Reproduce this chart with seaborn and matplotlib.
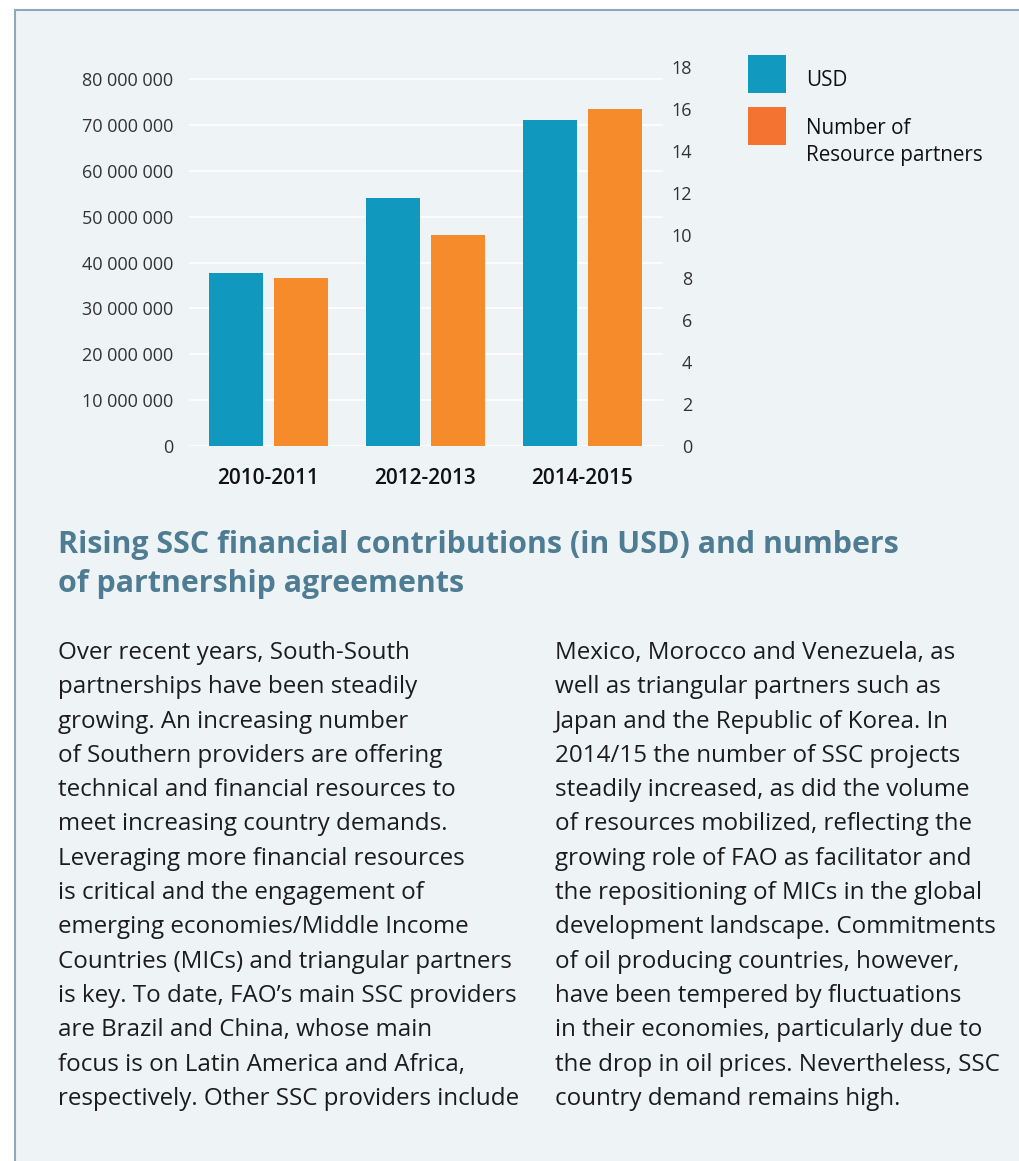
import matplotlib
matplotlib.use("Agg")
import matplotlib.pyplot as plt
import pandas as pd
import seaborn as sns
from matplotlib.patches import Rectangle
from matplotlib.lines import Line2D
from matplotlib.ticker import FuncFormatter

# Data
periods = ["2010-2011", "2012-2013", "2014-2015"]
usd_values = [37_700_000, 54_000_000, 71_000_000]
partner_counts = [8, 10, 16]
series_names = ["USD", "Number of\nResource partners"]
usd_ticks = list(range(0, 80_000_001, 10_000_000))
partner_ticks = list(range(0, 19, 2))

title_lines = [
    "Rising SSC financial contributions (in USD) and numbers",
    "of partnership agreements",
]
left_column = [
    "Over recent years, South-South",
    "partnerships have been steadily",
    "growing. An increasing number",
    "of Southern providers are offering",
    "technical and financial resources to",
    "meet increasing country demands.",
    "Leveraging more financial resources",
    "is critical and the engagement of",
    "emerging economies/Middle Income",
    "Countries (MICs) and triangular partners",
    "is key. To date, FAO\u2019s main SSC providers",
    "are Brazil and China, whose main",
    "focus is on Latin America and Africa,",
    "respectively. Other SSC providers include",
]
right_column = [
    "Mexico, Morocco and Venezuela, as",
    "well as triangular partners such as",
    "Japan and the Republic of Korea. In",
    "2014/15 the number of SSC projects",
    "steadily increased, as did the volume",
    "of resources mobilized, reflecting the",
    "growing role of FAO as facilitator and",
    "the repositioning of MICs in the global",
    "development landscape. Commitments",
    "of oil producing countries, however,",
    "have been tempered by fluctuations",
    "in their economies, particularly due to",
    "the drop in oil prices. Nevertheless, SSC",
    "country demand remains high.",
]

BG = "#eef3f6"
BORDER = "#8fa8b8"
BLUE = "#1198be"
ORANGE = "#f58b2b"
LEG_BLUE = "#1199c0"
LEG_ORANGE = "#f47331"
TITLE = "#4e7c93"
TEXT = "#1c1c1c"

W, H = 1020, 1161

sns.set_style("white")
plt.rcParams["font.family"] = ["Open Sans", "DejaVu Sans"]

fig = plt.figure(figsize=(W / 100, H / 100), dpi=100)
fig.patch.set_facecolor("white")

# panel background and border
fig.add_artist(Rectangle((15 / W, 0), 1, 1 - 10 / H, transform=fig.transFigure,
                         facecolor=BG, edgecolor="none", zorder=-5))
fig.add_artist(Line2D([15 / W, 15 / W], [0, 1 - 10 / H], transform=fig.transFigure,
                      color=BORDER, linewidth=1.5))
fig.add_artist(Line2D([15 / W, 1], [1 - 10 / H, 1 - 10 / H], transform=fig.transFigure,
                      color=BORDER, linewidth=1.5))

ax = fig.add_axes([189 / W, 1 - 446 / H, (663 - 189) / W, (446 - 67) / H])
ax.set_facecolor("none")
ax2 = ax.twinx()

palette = {series_names[0]: BLUE, series_names[1]: ORANGE}
usd_df = pd.DataFrame({"period": periods, "value": usd_values, "series": series_names[0]})
partner_df = pd.DataFrame({"period": periods, "value": partner_counts, "series": series_names[1]})

bar_kw = dict(x="period", y="value", hue="series", hue_order=series_names,
              palette=palette, saturation=1, width=0.83, gap=0.17, dodge=True,
              legend=False, linewidth=0, edgecolor="none", zorder=2)
sns.barplot(data=usd_df, ax=ax, **bar_kw)
sns.barplot(data=partner_df, ax=ax2, **bar_kw)

ax.set_xlim(-0.506, 2.513)
ax.set_ylim(0, 80_000_000 * (446 - 67) / (446 - 79))
ax2.set_ylim(0, 18)

ax.set_yticks(usd_ticks)
ax.yaxis.set_major_formatter(FuncFormatter(lambda v, p: f"{v:,.0f}".replace(",", " ")))
ax.grid(axis="y", color="white", linewidth=1.2)
ax.grid(axis="x", visible=False)
ax.set_axisbelow(True)
ax.tick_params(axis="y", length=0, pad=11.5, labelsize=13, labelcolor="#333333")
ax.tick_params(axis="x", length=0, pad=15.5, labelsize=15, labelcolor="#111111")
for lbl in ax.get_xticklabels():
    lbl.set_fontweight("semibold")

ax2.set_yticks(partner_ticks)
ax2.set_yticklabels([str(t) for t in partner_ticks], ha="right")
ax2.tick_params(axis="y", length=0, pad=21, labelsize=13, labelcolor="#333333")
ax2.grid(False)

for a in (ax, ax2):
    a.set_xlabel("")
    a.set_ylabel("")
    for s in a.spines.values():
        s.set_visible(False)

# legend (swatches plus label lines placed on their baselines)
leg_items = [(series_names[0], LEG_BLUE, 55, 86), (series_names[1], LEG_ORANGE, 107, 134)]
for name, color, top, baseline in leg_items:
    fig.add_artist(Rectangle((748 / W, 1 - (top + 38) / H), 38 / W, 38 / H,
                             transform=fig.transFigure, facecolor=color, edgecolor="none"))
    for j, part in enumerate(name.split("\n")):
        fig.text(806 / W, 1 - (baseline + j * 27) / H, part, fontsize=14.9,
                 color="#111111", va="baseline", ha="left")

# title
for i, line in enumerate(title_lines):
    fig.text(58 / W, 1 - (553 + i * 39) / H, line, fontsize=21.9, fontweight="bold",
             color=TITLE, va="baseline", ha="left")

# body text
for i, line in enumerate(left_column):
    fig.text(58 / W, 1 - (659 + i * 34.3) / H, line, fontsize=17.4, color=TEXT,
             va="baseline", ha="left")
for i, line in enumerate(right_column):
    fig.text(555 / W, 1 - (659 + i * 34.3) / H, line, fontsize=17.4, color=TEXT,
             va="baseline", ha="left")

fig.savefig("out.png", dpi=100, facecolor=fig.get_facecolor())
